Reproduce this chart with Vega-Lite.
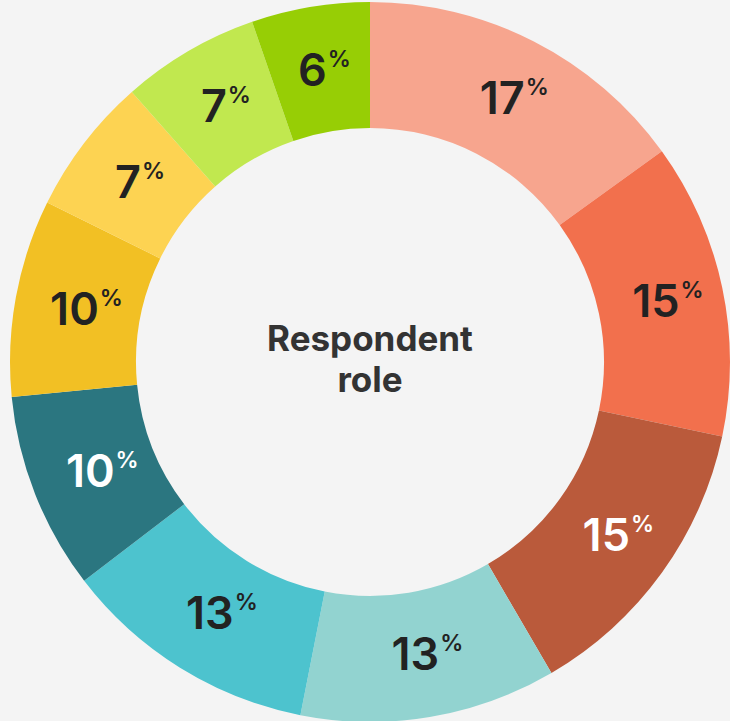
{
  "$schema": "https://vega.github.io/schema/vega-lite/v6.json",
  "width": 720,
  "height": 720,
  "padding": {"left": 10, "top": 2, "right": 0, "bottom": 0},
  "background": "#f4f4f4",
  "config": {"view": {"stroke": null}},
  "data": {
    "values": [
      {"idx": 1, "role": "Role 1", "value": 17},
      {"idx": 2, "role": "Role 2", "value": 15},
      {"idx": 3, "role": "Role 3", "value": 15},
      {"idx": 4, "role": "Role 4", "value": 13},
      {"idx": 5, "role": "Role 5", "value": 13},
      {"idx": 6, "role": "Role 6", "value": 10},
      {"idx": 7, "role": "Role 7", "value": 10},
      {"idx": 8, "role": "Role 8", "value": 7},
      {"idx": 9, "role": "Role 9", "value": 7},
      {"idx": 10, "role": "Role 10", "value": 6}
    ]
  },
  "layer": [
    {
      "mark": {"type": "arc", "outerRadius": 360, "innerRadius": 234, "stroke": null},
      "encoding": {
        "theta": {"field": "value", "type": "quantitative", "stack": true},
        "order": {"field": "idx", "type": "quantitative"},
        "color": {
          "field": "role",
          "type": "nominal",
          "sort": null,
          "legend": null,
          "scale": {
            "domain": ["Role 1", "Role 2", "Role 3", "Role 4", "Role 5", "Role 6", "Role 7", "Role 8", "Role 9", "Role 10"],
            "range": ["#F7A58E", "#F2704D", "#BA5A3B", "#92D3D0", "#4DC3CE", "#2B7680", "#F2C024", "#FDD352", "#C1E84F", "#97CE05"]
          }
        }
      }
    },
    {
      "mark": {"type": "text", "radius": 296, "font": "Inter", "fontSize": 45, "fontWeight": 600, "align": "right", "baseline": "middle", "dx": 20, "dy": 2},
      "encoding": {
        "theta": {"field": "value", "type": "quantitative", "stack": true},
        "order": {"field": "idx", "type": "quantitative"},
        "text": {"condition": {"test": "datum.value >= 10", "field": "value", "type": "quantitative"}, "value": ""},
        "color": {"condition": {"test": "datum.idx == 3 || datum.idx == 6", "value": "#ffffff"}, "value": "#222222"}
      }
    },
    {
      "mark": {"type": "text", "radius": 296, "font": "Inter", "fontSize": 45, "fontWeight": 600, "align": "right", "baseline": "middle", "dx": 6, "dy": 2},
      "encoding": {
        "theta": {"field": "value", "type": "quantitative", "stack": true},
        "order": {"field": "idx", "type": "quantitative"},
        "text": {"condition": {"test": "datum.value < 10", "field": "value", "type": "quantitative"}, "value": ""},
        "color": {"value": "#222222"}
      }
    },
    {
      "mark": {"type": "text", "radius": 296, "font": "Inter", "fontSize": 23, "fontWeight": 600, "align": "left", "baseline": "middle", "dx": 21, "dy": -10},
      "encoding": {
        "theta": {"field": "value", "type": "quantitative", "stack": true},
        "order": {"field": "idx", "type": "quantitative"},
        "text": {"condition": {"test": "datum.value >= 10", "value": "%"}, "value": ""},
        "color": {"condition": {"test": "datum.idx == 3 || datum.idx == 6", "value": "#ffffff"}, "value": "#222222"}
      }
    },
    {
      "mark": {"type": "text", "radius": 296, "font": "Inter", "fontSize": 23, "fontWeight": 600, "align": "left", "baseline": "middle", "dx": 7, "dy": -10},
      "encoding": {
        "theta": {"field": "value", "type": "quantitative", "stack": true},
        "order": {"field": "idx", "type": "quantitative"},
        "text": {"condition": {"test": "datum.value < 10", "value": "%"}, "value": ""},
        "color": {"value": "#222222"}
      }
    },
    {
      "data": {"values": [{"label": "Respondent role"}]},
      "mark": {"type": "text", "text": ["Respondent", "role"], "font": "Inter", "fontSize": 35, "fontWeight": 700, "color": "#333333", "lineHeight": 41, "align": "center", "baseline": "middle", "dy": -22},
      "encoding": {}
    }
  ]
}
